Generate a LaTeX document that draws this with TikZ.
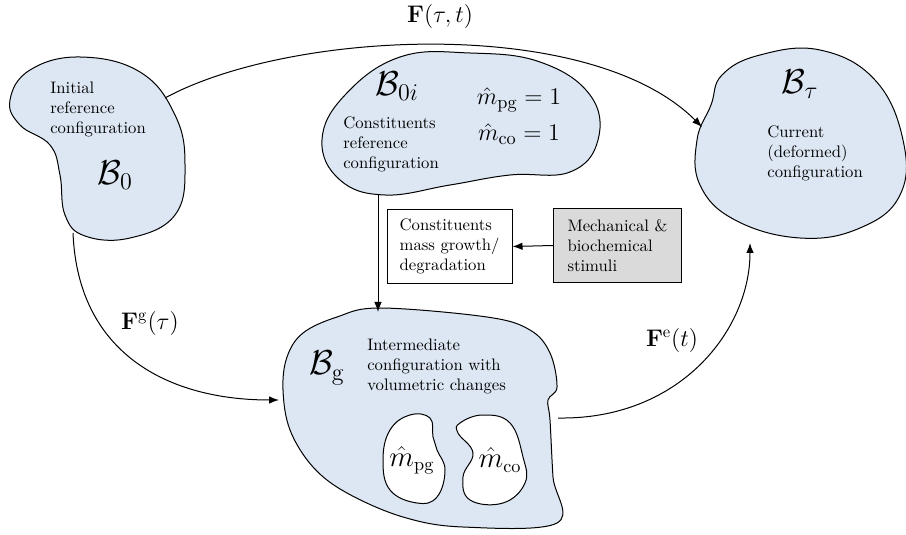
\documentclass[tikz,border=0pt]{standalone}
\usetikzlibrary{arrows.meta}
\definecolor{blobblue}{RGB}{220,231,243}
\definecolor{boxgray}{RGB}{218,218,218}
\begin{document}
\begin{tikzpicture}[x=0.6pt,y=-0.6pt,
  blob/.style={draw=black,fill=blobblue,line width=0.6pt},
  hole/.style={draw=black,fill=white,line width=0.6pt},
  conn/.style={line width=0.6pt,-{Latex[length=6pt,width=4.5pt]}},
  txt/.style={align=left,inner sep=0pt,font=\normalsize},
  bigmath/.style={inner sep=0pt,font=\huge},
  lab/.style={inner sep=0pt,font=\Large},
  rbox/.style={draw=black,line width=0.6pt,minimum width=75pt,minimum height=44pt,inner sep=0pt}]
\useasboundingbox (0,0) rectangle (906,535);

% B0 blob
\draw[blob] plot[smooth cycle,tension=0.7] coordinates {(10,100) (30,70) (80,57) (140,72) (175,115) (185,165) (175,215) (130,238) (85,236) (65,215) (60,175) (50,145) (20,125)};
% B0i blob
\draw[blob] plot[smooth cycle,tension=0.7] coordinates {(322,140) (345,95) (400,57) (470,53) (540,62) (590,95) (598,140) (570,172) (510,175) (450,185) (385,195) (340,180)};
% Btau blob
\draw[blob] plot[smooth cycle,tension=0.7] coordinates {(711,105) (722,75) (760,55) (820,50) (875,80) (903,140) (900,195) (860,228) (800,238) (735,220) (700,185) (697,140)};
% Bg blob
\draw[blob] plot[smooth cycle,tension=0.6] coordinates {(380,308) (487,317) (530,330) (550,353) (557,387) (548,400) (550,420) (553,477) (557,523) (463,527) (403,517) (347,493) (313,467) (290,430) (283,390) (287,357) (303,333) (337,317)};
% holes
\draw[hole] plot[smooth cycle,tension=0.7] coordinates {(410,415) (430,418) (433,437) (437,450) (445,470) (437,497) (417,503) (390,490) (383,460) (390,430)};
\draw[hole] plot[smooth cycle,tension=0.7] coordinates {(460,423) (483,415) (510,423) (523,457) (525,483) (503,503) (470,500) (463,477) (473,453) (458,433)};

% texts
\node[txt,anchor=west] (t0) at (50,109) {Initial\\reference\\configuration};
\node[bigmath] (b0) at (115,175) {$\mathcal{B}_0$};
\node[bigmath] (b0i) at (397,86) {$\mathcal{B}_{0i}$};
\node[lab,font=\fontsize{15.5}{19}\selectfont] (mpg1) at (519,100) {$\hat{m}_{\mathrm{pg}}=1$};
\node[lab,font=\fontsize{15.5}{19}\selectfont] (mco1) at (519,134) {$\hat{m}_{\mathrm{co}}=1$};
\node[txt,anchor=west] (t0i) at (343,144) {Constituents\\reference\\configuration};
\node[bigmath] (btau) at (800,84) {$\mathcal{B}_\tau$};
\node[txt,anchor=west] (ttau) at (767,153) {Current\\(deformed)\\configuration};
\node[bigmath] (bg) at (327,368) {$\mathcal{B}_{\mathrm{g}}$};
\node[txt,anchor=west] (tg) at (367,366) {Intermediate\\configuration with\\volumetric changes};
\node[lab,font=\fontsize{16}{19}\selectfont] (mpg) at (412,460) {$\hat{m}_{\mathrm{pg}}$};
\node[lab,font=\fontsize{16}{19}\selectfont] (mco) at (500,460) {$\hat{m}_{\mathrm{co}}$};

% boxes
\node[rbox,align=left] (growth) at (449.5,246.5) {Constituents\\mass growth/\\degradation};
\node[rbox,fill=boxgray,align=left,minimum width=77pt] (stim) at (617.5,245.5) {Mechanical \&\\biochemical\\stimuli};

% connector coordinates
\coordinate (fs) at (165,98);
\coordinate (fe) at (702,127);
\coordinate (gs) at (73,233);
\coordinate (ge) at (279,400);
\coordinate (es) at (558,418);
\coordinate (ee) at (750,243);
\coordinate (vs) at (378,195);
\coordinate (ve) at (378,312);

\draw[conn] (fs) .. controls (290,30) and (590,15) .. (fe);
\draw[conn] (gs) .. controls (78,355) and (170,400) .. (ge);
\draw[conn] (es) .. controls (680,420) and (750,330) .. (ee);
\draw[conn] (vs) -- (ve);
\draw[conn] (stim.west) -- (growth.east);

% labels
\node[lab] (lF) at (440,17) {$\mathbf{F}(\tau,t)$};
\node[lab] (lFg) at (150,323) {$\mathbf{F}^{\mathrm{g}}(\tau)$};
\node[lab] (lFe) at (672,340) {$\mathbf{F}^{\mathrm{e}}(t)$};
\end{tikzpicture}
\end{document}
